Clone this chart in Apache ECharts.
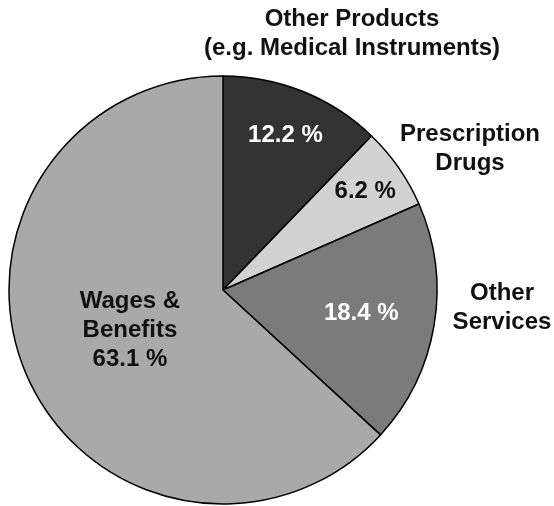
<!DOCTYPE html>
<html>
<head>
<meta charset="utf-8">
<script src="https://cdn.jsdelivr.net/npm/echarts@6/dist/echarts.min.js"></script>
<style>
  html, body { margin: 0; padding: 0; background: #ffffff; }
  #chart { width: 554px; height: 506px; }
</style>
</head>
<body>
<div id="chart"></div>
<script>
// Spending shares, clockwise from 12 o'clock
const categories = [
  'Other Products\n(e.g. Medical Instruments)',
  'Prescription\nDrugs',
  'Other\nServices',
  'Wages &\nBenefits'
];
const shares = [12.2, 6.2, 18.4, 63.1];

// Styling for each slice
const sliceColors = ['#333333', '#d2d2d2', '#7b7b7b', '#a9a9a9'];
const valueColors = ['#ffffff', '#111111', '#ffffff', '#111111'];
const nameInside = [false, false, false, true];
// distance of each in-slice label from the centre, as a fraction of the radius
const labelRadius = [0.78, 0.81, 0.655, 0.475];

const CX = 223, CY = 290, R = 214;
const FONT = '"Liberation Sans", Arial, Helvetica, sans-serif';

const total = shares.reduce((a, b) => a + b, 0);
const midAngles = [];
let acc = 0;
shares.forEach(v => {
  midAngles.push((acc + v / 2) / total * Math.PI * 2);
  acc += v;
});

const chart = echarts.init(document.getElementById('chart'), null, { renderer: 'canvas' });

chart.setOption({
  backgroundColor: '#ffffff',
  animation: false,
  series: [{
    type: 'pie',
    center: [CX, CY],
    radius: [0, R],
    startAngle: 90,
    clockwise: true,
    silent: true,
    itemStyle: { borderColor: '#000000', borderWidth: 1.5 },
    labelLine: { show: false },
    label: {
      show: true,
      position: 'inside',
      fontFamily: FONT,
      fontWeight: 'bold',
      fontSize: 24,
      lineHeight: 29,
      align: 'center',
      formatter: p => (nameInside[p.dataIndex] ? p.name + '\n' : '') + p.value + ' %'
    },
    labelLayout: p => {
      const i = p.dataIndex;
      const d = labelRadius[i] * R;
      return {
        x: CX + d * Math.sin(midAngles[i]),
        y: CY - d * Math.cos(midAngles[i]),
        align: 'center',
        verticalAlign: 'middle'
      };
    },
    data: categories.map((name, i) => ({
      name: name,
      value: shares[i],
      itemStyle: { color: sliceColors[i] },
      label: { color: valueColors[i] }
    }))
  }],
  graphic: [
    { type: 'text', x: 352, y: 34, style: { text: categories[0], font: 'bold 24px ' + FONT, fill: '#111111', align: 'center', verticalAlign: 'middle', lineHeight: 29 } },
    { type: 'text', x: 470, y: 149, style: { text: categories[1], font: 'bold 24px ' + FONT, fill: '#111111', align: 'center', verticalAlign: 'middle', lineHeight: 29 } },
    { type: 'text', x: 502, y: 308, style: { text: categories[2], font: 'bold 24px ' + FONT, fill: '#111111', align: 'center', verticalAlign: 'middle', lineHeight: 29 } }
  ]
});
</script>
</body>
</html>
